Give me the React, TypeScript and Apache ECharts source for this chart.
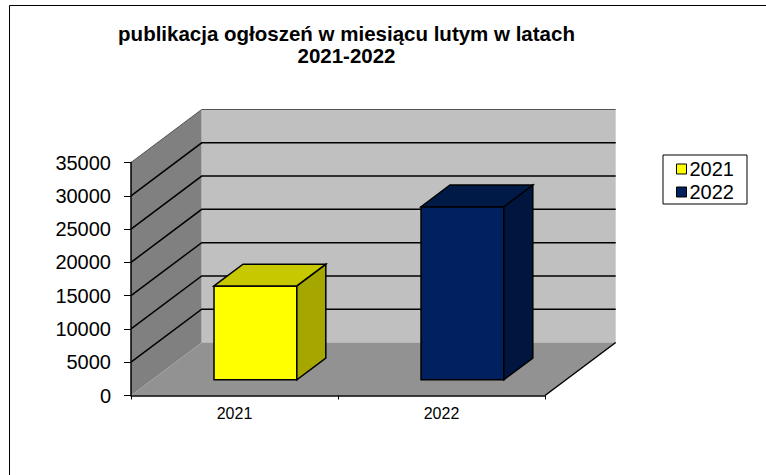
import React, { useEffect, useRef } from "react";
import * as echarts from "echarts";

const titleText = "publikacja ogłoszeń w miesiącu lutym w latach\n2021-2022";
const categories = ["2021", "2022"];
const values = [14100, 26000];
const seriesNames = ["2021", "2022"];
const yMin = 0;
const yMax = 35000;
const yStep = 5000;

const frontColors = ["#FFFF00", "#002060"];
const topColors = ["#C8C800", "#001A48"];
const sideColors = ["#A6A600", "#00163F"];

// 3D projection offsets (pixels)
const DX = 70.7;
const DY = -53;
const FX = DX * 0.296;
const FY = DY * 0.296;
const BX = DX * 0.41;
const BY = DY * 0.41;

export default function App() {
  const ref = useRef<HTMLDivElement>(null);
  useEffect(() => {
    if (!ref.current) return;
    const chart = echarts.init(ref.current, null, { renderer: "svg" });
    const ticks: number[] = [];
    for (let t = yMin + yStep; t <= yMax; t += yStep) ticks.push(t);

    const wallsItem = (params: any, api: any) => {
      const cs = params.coordSys;
      const x0 = cs.x, x1 = cs.x + cs.width, yTop = cs.y, yBot = cs.y + cs.height;
      const children: any[] = [
        {
          type: "polygon",
          shape: { points: [[x0, yTop], [x0 + DX, yTop + DY], [x0 + DX, yBot + DY], [x0, yBot]] },
          style: { fill: "#808080" },
        },
        {
          type: "rect",
          shape: { x: x0 + DX, y: yTop + DY, width: cs.width, height: cs.height },
          style: { fill: "#C0C0C0" },
        },
        {
          type: "polygon",
          shape: { points: [[x0, yBot], [x0 + DX, yBot + DY], [x1 + DX, yBot + DY], [x1, yBot]] },
          style: { fill: "#929292" },
        },
      ];
      ticks.forEach((t) => {
        const y = api.coord([0, t])[1];
        children.push({
          type: "polyline",
          shape: { points: [[x0, y], [x0 + DX, y + DY], [x1 + DX, y + DY]] },
          style: { stroke: t === yMax ? "#555" : "#000", lineWidth: t === yMax ? 1 : 1.5, fill: null },
        });
      });
      children.push({
        type: "line",
        shape: { x1: x1, y1: yBot, x2: x1 + DX, y2: yBot + DY },
        style: { stroke: "#000", lineWidth: 1.5 },
      });
      return { type: "group", children };
    };

    const barItem = (si: number) => (params: any, api: any) => {
      const idx = api.value(0);
      const v = api.value(1);
      const top = api.coord([idx, v]);
      const base = api.coord([idx, 0]);
      const bw = api.size([1, 0])[0] * 0.4;
      const cx = top[0] + FX;
      const l = cx - bw / 2, r = cx + bw / 2;
      const yT = top[1] + FY, yB = base[1] + FY;
      const st = { stroke: "#000", lineWidth: 1.5, lineJoin: "miter" };
      return {
        type: "group",
        children: [
          { type: "polygon", shape: { points: [[l, yT], [r, yT], [r, yB], [l, yB]] }, style: { ...st, fill: frontColors[si] } },
          { type: "polygon", shape: { points: [[r, yT], [r + BX, yT + BY], [r + BX, yB + BY], [r, yB]] }, style: { ...st, fill: sideColors[si] } },
          { type: "polygon", shape: { points: [[l, yT], [l + BX, yT + BY], [r + BX, yT + BY], [r, yT]] }, style: { ...st, fill: topColors[si] } },
        ],
      };
    };

    chart.setOption({
      animation: false,
      backgroundColor: "#fff",
      title: {
        text: titleText,
        left: 341.5,
        textAlign: "center",
        top: 17,
        textStyle: { fontFamily: "Arial, Liberation Sans", fontWeight: "bold", fontSize: 20.5, lineHeight: 22, color: "#000" },
      },
      graphic: [
        {
          type: "rect",
          shape: { x: 9.5, y: 5.5, width: 900, height: 600 },
          style: { fill: null, stroke: "#000", lineWidth: 1 },
          silent: true,
          z: 100,
        },
      ],
      legend: {
        data: seriesNames,
        orient: "vertical",
        left: 663,
        top: 155,
        padding: [4, 13, 2, 13],
        itemGap: 3,
        itemWidth: 10,
        itemHeight: 10,
        icon: "rect",
        borderColor: "#000",
        borderWidth: 1,
        backgroundColor: "#fff",
        itemStyle: { borderColor: "#000", borderWidth: 1 },
        textStyle: { fontFamily: "Arial, Liberation Sans", fontSize: 20, color: "#000", padding: [0, 0, 0, -2] },
      },
      grid: { left: 131, top: 162.5, width: 414, bottom: 79.5, containLabel: false },
      xAxis: {
        type: "category",
        data: categories,
        boundaryGap: true,
        axisLine: { show: true, lineStyle: { color: "#000", width: 1.5 } },
        axisTick: { show: true, length: 4, lineStyle: { color: "#000" } },
        axisLabel: { fontFamily: "Arial, Liberation Sans", fontSize: 16, color: "#000", margin: 10 },
        splitLine: { show: false },
        z: 10,
      },
      yAxis: {
        type: "value",
        min: yMin,
        max: yMax,
        interval: yStep,
        axisLine: { show: true, lineStyle: { color: "#000", width: 1.5 } },
        axisTick: { show: true, length: 7, lineStyle: { color: "#000" } },
        axisLabel: {
          fontFamily: "Arial, Liberation Sans",
          fontSize: 20,
          color: "#000",
          margin: 20,
          formatter: (v: number) => String(v),
        },
        splitLine: { show: false },
        z: 10,
      },
      series: [
        {
          name: "walls",
          type: "custom",
          renderItem: wallsItem,
          data: [[0, 0]],
          z: 1,
          silent: true,
        },
        ...seriesNames.map((name, si) => ({
          name,
          type: "custom",
          renderItem: barItem(si),
          data: [[si, values[si]]],
          itemStyle: { color: frontColors[si] },
          z: 5,
        })),
      ],
    });
    return () => chart.dispose();
  }, []);
  return <div ref={ref} style={{ position: "absolute", left: 0, top: 0, width: 766, height: 475 }} />;
}
